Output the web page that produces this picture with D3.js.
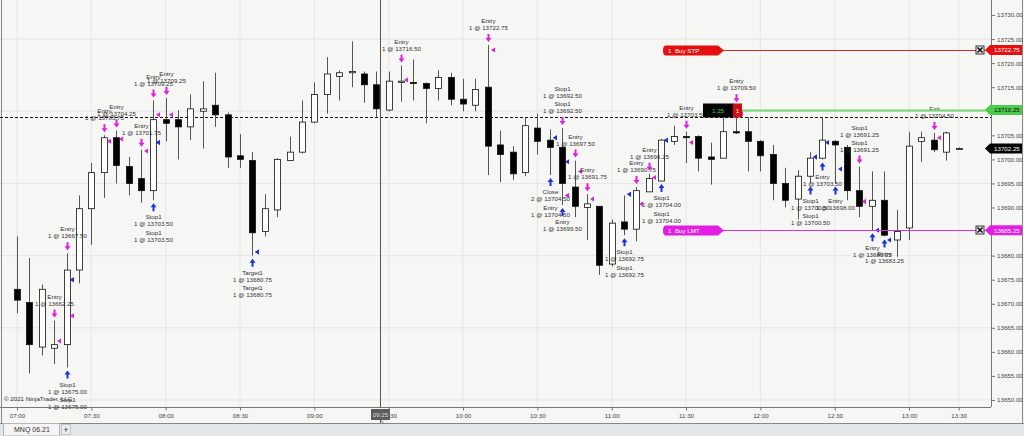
<!doctype html>
<meta charset="utf-8">
<script src="https://d3js.org/d3.v7.min.js"></script>
<style>
body { margin: 0; overflow: hidden; background: #fff; }
text { font-family: "Liberation Sans", Arial, sans-serif; }
</style>
<body>
<script>

var width = 1024;
var height = 436;
var plotRight = 991;
var plotBottom = 407;

// 5 minute bars, 07:00 .. 13:20
var barOpen  = [13673,13670.25,13661,13660.75,13661.5,13677,13689.75,13697.25,13704.5,13698.5,13696,13693.5,13708.25,13708.25,13706.75,13710,13711.25,13709.25,13700.75,13699.75,
                13685,13689.5,13699.75,13701.5,13707.75,13713.5,13717.25,13718,13717.75,13715.5,13710.25,13716,13716,13715.75,13714.75,13717,13712.5,13711.25,13715,13703,
                13701.5,13697.25,13706.5,13704,13702.5,13694.25,13690,13690.25,13678.25,13687,13685.5,13693.25,13695.5,13703.75,13704.75,13704.75,13700.5,13700.25,13705.75,13705.75,
                13703.75,13701,13695,13691.75,13696.5,13700.25,13703.75,13702.5,13693.5,13690.25,13691.5,13683.25,13685.75,13703.75,13704,13701.5,13702.25];
var barHigh  = [13684,13679.5,13674,13666.5,13680.5,13692.5,13699.25,13705,13706,13700.5,13702,13712.25,13712.75,13710.25,13713.5,13716.25,13718,13709.75,13705.25,13701.5,
                13692.75,13700.25,13704.75,13712.25,13716,13721.25,13718.5,13724.5,13718.25,13718.25,13718.25,13719.5,13720.75,13716,13718.5,13718,13716.75,13716.75,13723.75,13706,
                13702.75,13708.75,13709.5,13706.25,13706.5,13699.75,13692.75,13690.25,13687.5,13692.5,13694.25,13697,13704.25,13707,13705.75,13705,13703.5,13708.75,13711.25,13708.75,
                13704,13703,13698.25,13697.75,13701.5,13708.75,13704,13703,13698.5,13697.5,13697.5,13689.5,13705.75,13705.75,13705.5,13705.75,13702.5];
var barLow   = [13668,13655.5,13659.25,13657.5,13656.75,13674.25,13682.25,13692,13695,13692.5,13691,13691.5,13703.75,13700,13704,13702.25,13706.75,13698.25,13698.25,13680,
                13684,13688,13699.75,13701.25,13707.5,13709.5,13712.25,13715,13711.75,13708.75,13710,13712,13712.25,13707.5,13712.25,13711.25,13710,13710,13696.75,13695.25,
                13695.75,13696.5,13701,13696.75,13690.5,13688,13683.25,13676,13677.75,13684.25,13683,13693.25,13695.5,13703,13699.25,13697.5,13694.75,13700.25,13705.25,13697.5,
                13697.5,13691.5,13690,13687.5,13695,13700,13695,13691.5,13688,13685.25,13684,13679.75,13683.25,13699.5,13701.5,13699.75,13702];
var barClose = [13670.75,13661.5,13673,13661.5,13677,13689.75,13697.25,13704.5,13698.75,13695,13693.5,13708.25,13707.5,13706.75,13710.5,13710.5,13709.25,13700.5,13700,13684.75,
                13689.75,13700,13701.5,13707.75,13713.5,13717.75,13718,13718.25,13715.5,13710.5,13716.25,13716.25,13715.75,13714.75,13717,13712.5,13711.5,13714.5,13702.75,13701,
                13697,13707,13703.75,13702.5,13695,13690.25,13690.75,13678,13686.75,13685.5,13693.5,13696,13704,13704.75,13704.5,13700.25,13700,13705.75,13705.5,13703.75,
                13700.75,13695,13691.5,13696.5,13700.25,13704,13703,13693.5,13690.25,13691.5,13684.25,13685,13702.75,13704.5,13702,13705.5,13702.25];

var timeLabels = ["07:00","07:30","08:00","08:30","09:00","09:30","10:00","10:30","11:00","11:30","12:00","12:30","13:00","13:30"];
var timeBars   = [0,6,12,18,24,30,36,42,48,54,60,66,72,76];
var priceLabels = [13650,13655,13660,13665,13670,13675,13680,13685,13690,13695,13700,13705,13710,13715,13720,13725,13730];
var gridPrices  = [13650,13665,13680,13695,13710,13725];

// executions
var execBar   = [3,4,4,4,7,8,10,11,12,11,11,19,19,31,38,43,43,44,44,44,45,46,49,49,50,51,52,52,54,58,64,64,65,66,68,68,69,70,74];
var execSide  = ["S","S","B","B","S","S","S","S","S","B","B","B","B","S","S","B","B","B","S","S","S","S","B","B","S","S","B","B","S","S","B","B","B","B","S","S","B","B","S"];
var execName  = ["Entry","Entry","Stop1","Stop1","Entry","Entry","Entry","Entry","Entry","Stop1","Stop1","Target1","Target1","Entry","Entry","Close","Entry","Entry","Stop1","Stop1",
                 "Entry","Entry","Stop1","Stop1","Entry","Entry","Stop1","Stop1","Entry","Entry","Stop1","Stop1","Entry","Entry","Stop1","Stop1","Entry","Entry","Exit"];
var execQty   = [1,1,1,1,1,1,1,1,1,1,1,1,1,1,1,2,1,1,1,1,1,1,1,1,1,1,1,1,1,1,1,1,1,1,1,1,1,1,1];
var execPrice = [13662.25,13667.50,13675.00,13675.00,13703.75,13704.25,13701.75,13709.25,13709.25,13703.50,13703.50,13680.75,13680.75,13716.50,13722.75,13704.50,13704.50,13699.50,13692.50,13692.50,
                 13697.50,13691.75,13692.75,13692.75,13690.75,13696.25,13704.00,13704.00,13703.50,13709.50,13700.50,13700.50,13703.50,13698.00,13691.25,13691.25,13685.25,13683.25,13704.50];

var orderText   = ["1  Buy STP", "1  Buy LMT"];
var orderPrice  = [13722.75, 13685.25];
var positionPrice = 13710.25;
var positionPnl = "1.25";
var positionQty = "1";
var lastPrice = 13702.25;
var refPrice = 13708.75;
var cursorBar = 29.2;
var cursorTime = "09:25";

var fs = "6.2px";

var svg = d3.select("body")
        .append("svg")
        .attr("width", width)
        .attr("height", height);

svg.append("rect")
        .attr("width", width)
        .attr("height", height)
        .style("fill", "#f6f6f4");

var x = d3.scaleLinear().domain([0, 76]).range([17, 958.6]);
var y = d3.scaleLinear().domain([13650, 13730]).range([400, 15]);

var markerPrice = [orderPrice[0], positionPrice, lastPrice, orderPrice[1]];

// grid
svg.append("g").selectAll("line").data(timeBars).join("line")
        .attr("x1", d => x(d)).attr("x2", d => x(d))
        .attr("y1", 0).attr("y2", plotBottom)
        .style("stroke", "#e6e6e6");
svg.append("g").selectAll("line").data(gridPrices).join("line")
        .attr("x1", 0).attr("x2", plotRight)
        .attr("y1", d => y(d)).attr("y2", d => y(d))
        .style("stroke", "#e6e6e6");

// frame
svg.append("line").attr("x1", plotRight + 0.5).attr("x2", plotRight + 0.5).attr("y1", 0).attr("y2", plotBottom)
        .style("stroke", "#777");
svg.append("line").attr("x1", 0).attr("x2", plotRight).attr("y1", plotBottom + 0.5).attr("y2", plotBottom + 0.5)
        .style("stroke", "#777");
svg.append("line").attr("x1", 1.5).attr("x2", 1.5).attr("y1", 0).attr("y2", 423)
        .style("stroke", "#888");
svg.append("line").attr("x1", 1022.5).attr("x2", 1022.5).attr("y1", 0).attr("y2", 423)
        .style("stroke", "#888");

// axes (labels hidden under the price markers, as on the platform)
var hidden = d => markerPrice.some(m => Math.abs(y(m) - y(d)) < 6);
var yAxis = d3.axisRight(y).tickValues(priceLabels)
        .tickFormat(d => hidden(d) ? "" : d3.format(".2f")(d)).tickSize(3).tickPadding(2);
var gy = svg.append("g").attr("transform", "translate(" + (plotRight + 1) + ",0)").call(yAxis);
gy.select(".domain").remove();
gy.selectAll("text").style("font-size", fs).style("fill", "#444");
gy.selectAll("line").style("stroke", "#777");

var xAxis = d3.axisBottom(x).tickValues(timeBars).tickFormat((d, i) => timeLabels[i]).tickSize(3).tickPadding(3);
var gx = svg.append("g").attr("transform", "translate(0," + (plotBottom + 0.5) + ")").call(xAxis);
gx.select(".domain").remove();
gx.selectAll("text").style("font-size", fs).style("fill", "#444");
gx.selectAll("line").style("stroke", "#777");

// reference dashed line
svg.append("line")
        .attr("x1", 0).attr("x2", plotRight)
        .attr("y1", Math.round(y(refPrice)) + 0.5).attr("y2", Math.round(y(refPrice)) + 0.5)
        .style("stroke", "#111").style("stroke-dasharray", "3,2");

// candles
var bars = d3.range(barOpen.length);
var candles = svg.append("g");
candles.selectAll("line").data(bars).join("line")
        .attr("x1", d => Math.round(x(d)) + 0.5).attr("x2", d => Math.round(x(d)) + 0.5)
        .attr("y1", d => y(barHigh[d])).attr("y2", d => y(barLow[d]))
        .style("stroke", "#555");
candles.selectAll("rect").data(bars).join("rect")
        .attr("x", d => Math.round(x(d)) - 2.5)
        .attr("width", 6)
        .attr("y", d => y(Math.max(barOpen[d], barClose[d])))
        .attr("height", d => Math.max(1, y(Math.min(barOpen[d], barClose[d])) - y(Math.max(barOpen[d], barClose[d]))))
        .style("fill", d => barClose[d] >= barOpen[d] ? "#fff" : "#000")
        .style("stroke", "#111")
        .style("stroke-width", 0.8);

// execution markers
var sellColor = "#e21fe0", buyColor = "#1b33d6";
var execs = d3.range(execBar.length);
svg.append("g").selectAll("path").data(execs).join("path")
        .attr("d", function(d) {
            var cx = Math.round(x(execBar[d])) + 3, cy = y(execPrice[d]);
            return "M" + cx + "," + cy + "L" + (cx + 4) + "," + (cy - 2.5) + "L" + (cx + 4) + "," + (cy + 2.5) + "Z";
        })
        .style("fill", d => execSide[d] == "S" ? sellColor : buyColor);

var groups = d3.groups(execs, d => execBar[d] + execSide[d]);
var labels = svg.append("g");
groups.forEach(function(g) {
    var list = g[1];
    var bar = execBar[list[0]], side = execSide[list[0]];
    var cx = Math.round(x(bar)) + 0.5;
    var ay, dir;
    if (side == "S") { ay = y(barHigh[bar]) - 7; dir = 1; } else { ay = y(barLow[bar]) + 7; dir = -1; }
    var p = "M" + (cx - 1) + "," + (ay - 4 * dir) + "L" + (cx + 1) + "," + (ay - 4 * dir) +
            "L" + (cx + 1) + "," + ay + "L" + (cx + 3) + "," + ay + "L" + cx + "," + (ay + 4 * dir) +
            "L" + (cx - 3) + "," + ay + "L" + (cx - 1) + "," + ay + "Z";
    labels.append("path").attr("d", p).style("fill", side == "S" ? sellColor : buyColor);
    list.forEach(function(d, k) {
        var l1, l2;
        if (side == "S") { l2 = ay - 10 - k * 15; l1 = l2 - 7; } else { l1 = ay + 10 + k * 15.5; l2 = l1 + 7; }
        [[execName[d], l1], [execQty[d] + " @ " + execPrice[d].toFixed(2), l2]].forEach(function(t) {
            labels.append("text")
                    .attr("x", cx).attr("y", t[1])
                    .attr("dy", "0.35em")
                    .attr("text-anchor", "middle")
                    .style("font-size", fs).style("fill", "#333")
                    .text(t[0]);
        });
    });
});

// order lines
var orderColor = ["#d42a2a", "#dc2fdc"];
var orderFill = ["#e50f0f", "#e21fe0"];
orderPrice.forEach(function(p, i) {
    var yy = Math.round(y(p)) + 0.5;
    svg.append("line").attr("x1", 720).attr("x2", plotRight).attr("y1", yy).attr("y2", yy)
            .style("stroke", orderColor[i]).style("stroke-width", 1.2);
    svg.append("path")
            .attr("d", "M666," + (yy - 5) + "L718," + (yy - 5) + "L724," + yy + "L718," + (yy + 5) + "L666," + (yy + 5) + "Q663," + (yy + 5) + " 663," + yy + "Q663," + (yy - 5) + " 666," + (yy - 5) + "Z")
            .style("fill", orderFill[i]);
    svg.append("text").attr("x", 668).attr("y", yy).attr("dy", "0.35em")
            .style("font-size", fs).style("fill", "#fff").attr("xml:space", "preserve")
            .text(orderText[i]);
    var bx = 976;
    svg.append("rect").attr("x", bx).attr("y", yy - 4.5).attr("width", 8).attr("height", 8)
            .style("fill", "#eee").style("stroke", "#333");
    svg.append("path").attr("d", "M" + (bx + 1.5) + "," + (yy - 3) + "L" + (bx + 6.5) + "," + (yy + 2) + "M" + (bx + 6.5) + "," + (yy - 3) + "L" + (bx + 1.5) + "," + (yy + 2))
            .style("stroke", "#111").style("stroke-width", 1.6);
});

// position line and box
var py = Math.round(y(positionPrice)) + 0.5;
svg.append("line").attr("x1", 742).attr("x2", plotRight).attr("y1", py).attr("y2", py)
        .style("stroke", "#6fd86f").style("stroke-width", 2);
svg.append("rect").attr("x", 703).attr("y", py - 7).attr("width", 31).attr("height", 14).style("fill", "#050505");
svg.append("text").attr("x", 718).attr("y", py).attr("dy", "0.35em").attr("text-anchor", "middle")
        .style("font-size", fs).style("fill", "#3fcf3f").text(positionPnl);
svg.append("rect").attr("x", 733).attr("y", py - 7).attr("width", 9).attr("height", 14).style("fill", "#d01010");
svg.append("text").attr("x", 737.5).attr("y", py).attr("dy", "0.35em").attr("text-anchor", "middle")
        .style("font-size", fs).style("fill", "#fff").text(positionQty);

// right axis price markers
var markerFill = ["#e50f0f", "#4ccc4c", "#000", "#e21fe0"];
var markerText = ["#fff", "#000", "#fff", "#fff"];
markerPrice.forEach(function(p, i) {
    var yy = y(p);
    svg.append("path")
            .attr("d", "M985," + yy + "L990," + (yy - 5) + "L1022," + (yy - 5) + "L1022," + (yy + 5) + "L990," + (yy + 5) + "Z")
            .style("fill", markerFill[i]);
    svg.append("text").attr("x", 994).attr("y", yy).attr("dy", "0.35em")
            .style("font-size", fs).style("fill", markerText[i]).text(p.toFixed(2));
});

// crosshair
var cx0 = Math.round(x(cursorBar)) + 1.5;
svg.append("line").attr("x1", cx0).attr("x2", cx0).attr("y1", 0).attr("y2", plotBottom)
        .style("stroke", "#555");
svg.append("rect").attr("x", cx0 - 9.5).attr("y", 409).attr("width", 19).attr("height", 11).style("fill", "#5b5b5b");
svg.append("text").attr("x", cx0).attr("y", 414.5).attr("dy", "0.35em").attr("text-anchor", "middle")
        .style("font-size", fs).style("fill", "#ddd").text(cursorTime);
svg.append("path")
        .attr("d", "M" + cx0 + ",420 l0,10 l2.3,-2.2 l1.6,3.4 l1.4,-0.7 l-1.6,-3.3 l3.2,0 Z")
        .style("fill", "#fff").style("stroke", "#222").style("stroke-width", 0.7);

svg.append("text").attr("x", 4).attr("y", 399).attr("dy", "0.35em")
        .style("font-size", fs).style("fill", "#333").text("© 2021 NinjaTrader, LLC");

// tab strip
svg.append("rect").attr("x", 0).attr("y", 423).attr("width", width).attr("height", 13).style("fill", "#e3e6e8");
svg.append("line").attr("x1", 0).attr("x2", width).attr("y1", 423.5).attr("y2", 423.5).style("stroke", "#888");
svg.append("rect").attr("x", 3.5).attr("y", 423.5).attr("width", 56).attr("height", 12.5)
        .style("fill", "#f4f4f4").style("stroke", "#b5b5b5");
svg.append("text").attr("x", 14).attr("y", 430).attr("dy", "0.35em")
        .style("font-size", "7px").style("fill", "#333").text("MNQ 06.21");
svg.append("rect").attr("x", 61.5).attr("y", 424.5).attr("width", 9).attr("height", 10)
        .style("fill", "#e9ebed").style("stroke", "#c5c5c5");
svg.append("text").attr("x", 66).attr("y", 429.5).attr("dy", "0.35em").attr("text-anchor", "middle")
        .style("font-size", "9px").style("fill", "#444").text("+");

</script>
